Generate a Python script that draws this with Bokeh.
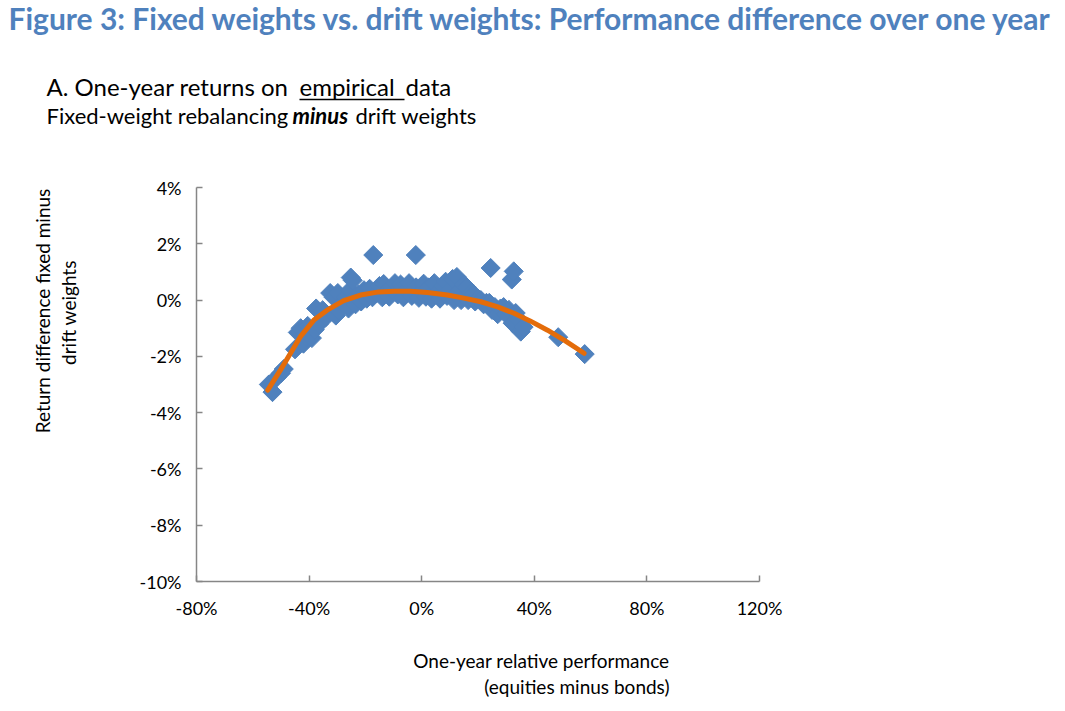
import numpy as np
from bokeh.plotting import figure
from bokeh.layouts import column, row
from bokeh.models import Range1d, FixedTicker, PrintfTickFormatter, Label
from bokeh.embed import file_html
from bokeh.resources import INLINE

# ---- data (percent units) ----
x_rel = [-54.3, -53.0, -51.5, -50.0, -49.0, -45.0, -44.0, -43.0, -42.0, -41.0,
         -40.5, -39.0, -38.0, -37.5, -36.5, -35.2, -34.0, -32.5, -31.3, -30.5,
         -29.5, -29.8, -28.0, -27.0, -26.0, -25.5, -25.2, -24.5, -23.5, -22.5,
         -21.5, -20.5, -19.5, -18.5, -17.5, -17.2, -16.0, -15.0, -14.0, -13.5,
         -12.5, -11.5, -10.5, -9.5, -8.5, -7.5, -6.5, -5.5, -4.5, -3.5,
         -2.1, -2.0, -1.0, 0.0, 0.7, 1.5, 2.5, 3.5, 4.5, 5.5,
         6.5, 7.5, 8.5, 9.0, 10.0, 11.0, 11.5, 12.5, 13.0, 14.0,
         15.0, 16.0, 16.5, 17.5, 18.5, 19.0, 20.0, 21.0, 22.0, 23.0,
         24.0, 24.5, 25.0, 26.0, 27.0, 28.0, 29.1, 30.0, 31.0, 32.0,
         32.3, 32.7, 33.4, 34.5, 35.2, 36.2, 48.5, 57.9]
y_diff = [-3.00, -3.27, -2.75, -2.60, -2.45, -1.75, -1.15, -1.00, -1.55, -1.30,
          -0.92, -1.35, -1.05, -0.30, -0.85, -0.36, -0.60, 0.25, 0.10, -0.55,
          -0.36, 0.25, -0.10, 0.10, -0.30, 0.35, 0.80, 0.70, -0.15, 0.20,
          -0.05, 0.35, 0.05, 0.40, 0.10, 1.60, 0.25, 0.50, 0.10, 0.57,
          0.30, 0.12, 0.45, 0.60, 0.20, 0.55, 0.10, 0.35, 0.60, 0.15,
          1.60, 0.45, 0.08, 0.30, 0.58, 0.12, 0.45, 0.05, 0.60, 0.25,
          0.05, 0.50, 0.65, 0.15, 0.35, 0.75, 0.00, 0.82, 0.30, 0.00,
          0.55, 0.45, 0.00, 0.25, 0.20, -0.05, 0.05, 0.00, -0.15, -0.10,
          -0.10, 1.14, -0.35, -0.25, -0.50, -0.30, -0.25, -0.50, -0.35, 0.73,
          -0.82, 1.02, -0.46, -0.70, -1.12, -0.96, -1.32, -1.92]

trend_x = [-54.7, -50.2, -46.6, -43.1, -38.3, -33.6, -27.7, -21.7, -15.2, -9.8,
           -4.0, 2.0, 9.1, 15.0, 21.0, 27.0, 32.8, 38.5, 44.7, 51.0, 57.7]
trend_y = [-3.20, -2.49, -1.89, -1.30, -0.71, -0.36, -0.02, 0.18, 0.29, 0.31,
           0.31, 0.27, 0.18, 0.07, -0.06, -0.24, -0.47, -0.74, -1.07, -1.45, -1.89]

x_ticks = [-80, -40, 0, 40, 80, 120]
y_ticks = [-10, -8, -6, -4, -2, 0, 2, 4]

title_text = "Figure 3: Fixed weights vs. drift weights: Performance difference over one year"
y_title = ["Return difference fixed minus", "drift weights"]
x_title = ["One-year relative performance", "(equities minus bonds)"]

FONT = "Lato"
BLUE = "#4F81BD"
ORANGE = "#E46C0A"
AXIS = "#868686"
W = 1064


def blank(width, height):
    f = figure(width=width, height=height, min_border=0,
               x_range=Range1d(0, width), y_range=Range1d(height, 0),
               x_axis_location=None, y_axis_location=None,
               output_backend="svg", toolbar_location=None)
    f.xgrid.visible = False
    f.ygrid.visible = False
    f.outline_line_color = None
    return f


def lab(f, text, x, y, size, align="left", style="normal", color="#000000", angle=0.0):
    f.add_layout(Label(x=x, y=y, text=text, text_font=FONT,
                       text_font_size=size, text_font_style=style,
                       text_color=color, text_align=align,
                       text_baseline="middle", angle=angle))


# ---- header (page y 0-150) ----
head = blank(W, 150)
lab(head, title_text, 8, 17, "30px", style="bold", color=BLUE)
lab(head, "A. One-year returns on", 46, 86, "24px")
lab(head, "empirical", 299, 86, "24px")
lab(head, "data", 405, 86, "24px")
head.segment(x0=[299], y0=[99], x1=[404], y1=[99], line_color="#000000", line_width=1.5)
lab(head, "Fixed-weight rebalancing", 46, 115, "22px")
lab(head, "minus", 292, 115, "22px", style="bold italic")
lab(head, "drift weights", 355, 115, "22px")

# ---- left strip with y-axis title (page x 0-100, y 150-635) ----
left = blank(100, 485)
lab(left, y_title[0], 42, 152, "19px", align="center", angle=np.pi / 2)
lab(left, y_title[1], 68, 154, "19px", align="center", angle=np.pi / 2)

# ---- main chart (page x 100-1064, y 150-635) ----
p = figure(frame_width=563, frame_height=394,
           min_border_left=96, min_border_top=37,
           min_border_right=305, min_border_bottom=54,
           x_range=Range1d(-80, 120), y_range=Range1d(-10, 4),
           output_backend="svg", toolbar_location=None)
p.xgrid.visible = False
p.ygrid.visible = False
p.outline_line_color = None

for ax, ticks in ((p.xaxis[0], x_ticks), (p.yaxis[0], y_ticks)):
    ax.ticker = FixedTicker(ticks=ticks)
    ax.formatter = PrintfTickFormatter(format="%d%%")
    ax.axis_line_color = AXIS
    ax.axis_line_width = 1.5
    ax.major_tick_line_color = AXIS
    ax.major_tick_line_width = 1.5
    ax.major_tick_in = 6
    ax.major_tick_out = 0
    ax.minor_tick_line_color = None
    ax.major_label_text_font = FONT
    ax.major_label_text_font_size = "18px"
    ax.major_label_text_color = "#000000"
p.xaxis[0].major_label_standoff = 15
p.yaxis[0].major_label_standoff = 15

p.scatter(x_rel, y_diff, marker="square", size=13.5, angle=np.pi / 4,
          fill_color=BLUE, line_color=BLUE)
p.line(trend_x, trend_y, line_width=5, line_color=ORANGE, line_cap="round")

# ---- footer with x-axis title (page y 635-710) ----
foot = blank(W, 75)
lab(foot, x_title[0], 669, 25, "19px", align="right")
lab(foot, x_title[1], 669, 51, "19px", align="right")

layout = column(head, row(left, p), foot)
open("out.html", "w").write(file_html(layout, INLINE))
